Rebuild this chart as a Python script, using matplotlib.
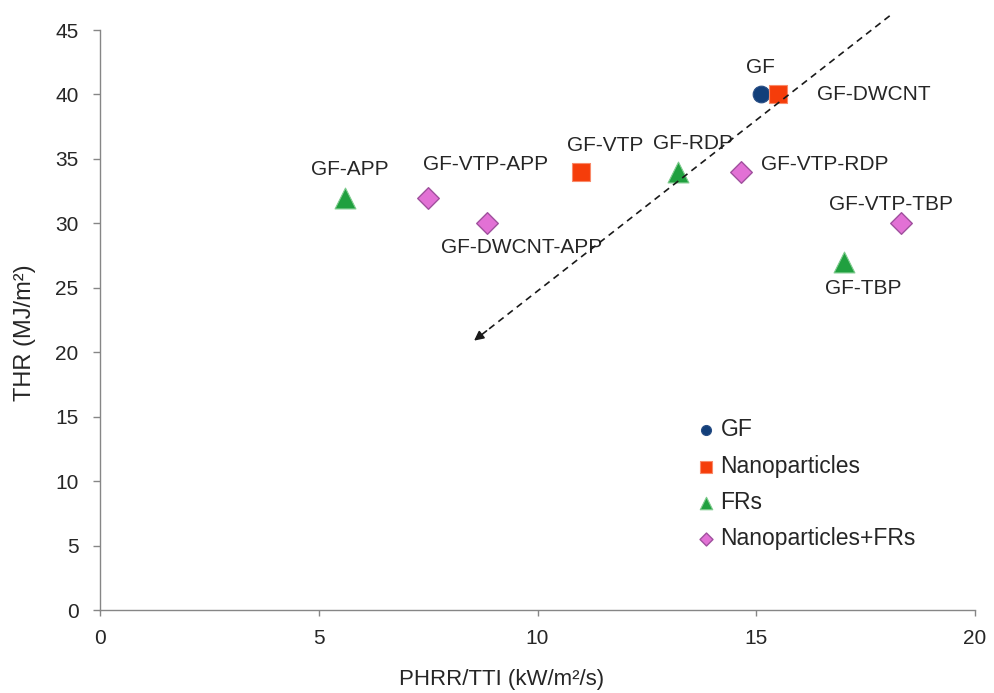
import matplotlib
matplotlib.use("Agg")
import matplotlib.pyplot as plt

plt.rcParams['font.family'] = ['Liberation Sans', 'DejaVu Sans']

# PHRR/TTI (kW/m2/s) and THR (MJ/m2) for each composite
gf_x, gf_y = [15.1], [40]
gf_names = ["GF"]

nano_x = [15.5, 11.0]
nano_y = [40, 34]
nano_names = ["GF-DWCNT", "GF-VTP"]

fr_x = [5.6, 13.2, 17.0]
fr_y = [32, 34, 27]
fr_names = ["GF-APP", "GF-RDP", "GF-TBP"]

mix_x = [7.5, 8.85, 14.65, 18.3]
mix_y = [32, 30, 34, 30]
mix_names = ["GF-VTP-APP", "GF-DWCNT-APP", "GF-VTP-RDP", "GF-VTP-TBP"]

# trend arrow: start and end points in data units
arrow_start = (18.05, 46.1)
arrow_end = (8.55, 20.9)

W, H = 994, 693
fig = plt.figure(figsize=(W / 100, H / 100), dpi=100)
ax = fig.add_axes([100 / W, 1 - 610 / H, 875 / W, 580 / H])

c_gf = "#123F7A"
c_nano = "#F53D0A"
c_fr = "#20A03F"
c_mix = "#E271D5"
txt = "#262626"

ax.scatter(gf_x, gf_y, s=12**2, marker='o', color=c_gf, edgecolor="#2A4F86",
           linewidth=0.8, zorder=3, label="GF")
ax.scatter(nano_x, nano_y, s=13.5**2, marker='s', color=c_nano, edgecolor="#F98A6A",
           linewidth=0.8, zorder=4, label="Nanoparticles")
ax.scatter(fr_x, fr_y, s=15**2, marker='^', color=c_fr, edgecolor="#7FCB8E",
           linewidth=0.8, zorder=3, label="FRs")
ax.scatter(mix_x, mix_y, s=11**2, marker='D', color=c_mix, edgecolor="#A0519E",
           linewidth=1.0, zorder=3, label="Nanoparticles+FRs")

# label offsets in pixels, with horizontal alignment
offsets = {
    "GF": (0, 27, 'center'),
    "GF-DWCNT": (39, 0, 'left'),
    "GF-VTP": (24, 26, 'center'),
    "GF-RDP": (15, 28, 'center'),
    "GF-APP": (5, 28, 'center'),
    "GF-VTP-APP": (57, 33, 'center'),
    "GF-DWCNT-APP": (34, -24, 'center'),
    "GF-VTP-RDP": (20, 7, 'left'),
    "GF-VTP-TBP": (-10, 19, 'center'),
    "GF-TBP": (19, -26, 'center'),
}
for xs, ys, names in [(gf_x, gf_y, gf_names), (nano_x, nano_y, nano_names),
                      (fr_x, fr_y, fr_names), (mix_x, mix_y, mix_names)]:
    for x, y, n in zip(xs, ys, names):
        dx, dy, ha = offsets[n]
        ax.annotate(n, (x, y), xytext=(dx, dy), textcoords='offset pixels',
                    ha=ha, va='center', fontsize=15, color=txt, zorder=5)

# dashed trend arrow
frac = 0.03
mid = (arrow_end[0] + (arrow_start[0] - arrow_end[0]) * frac,
       arrow_end[1] + (arrow_start[1] - arrow_end[1]) * frac)
ax.plot([arrow_start[0], mid[0]], [arrow_start[1], mid[1]], linestyle=(0, (4, 3)),
        color="#1a1a1a", linewidth=1.2, clip_on=False, zorder=6)
ax.annotate('', xy=arrow_end, xytext=mid,
            arrowprops=dict(arrowstyle='-|>', color="#1a1a1a", lw=1.2,
                            mutation_scale=14, shrinkA=0, shrinkB=0),
            annotation_clip=False, zorder=6)

ax.set_xlim(0, 20)
ax.set_ylim(0, 45)
ax.set_xticks([0, 5, 10, 15, 20])
ax.set_yticks(range(0, 46, 5))

for s in ['top', 'right']:
    ax.spines[s].set_visible(False)
for s in ['left', 'bottom']:
    ax.spines[s].set_color("#868686")
    ax.spines[s].set_linewidth(1.0)

ax.tick_params(axis='y', direction='out', length=5, width=1, color="#868686",
               labelsize=15, labelcolor=txt, pad=10.5)
ax.tick_params(axis='x', direction='out', length=4.5, width=1, color="#868686",
               labelsize=15, labelcolor=txt, pad=9)

ax.set_xlabel("PHRR/TTI (kW/m²/s)", fontsize=16, color=txt, va='center', ha='center')
ax.xaxis.set_label_coords((502 - 100) / 875, (610 - 680) / 580)
ax.set_ylabel("THR (MJ/m²)", fontsize=17, color=txt, va='center', ha='center')
ax.yaxis.set_label_coords((25 - 100) / 875, (610 - 333) / 580)

leg = ax.legend(loc='upper left', bbox_to_anchor=(685 / W, 1 - 407 / H),
                bbox_transform=fig.transFigure, frameon=False, fontsize=16.5,
                markerscale=0.6, handletextpad=0.25, handlelength=0.8,
                labelspacing=0.57, borderpad=0, labelcolor=txt)

fig.savefig("out.png", dpi=100, facecolor='white')
